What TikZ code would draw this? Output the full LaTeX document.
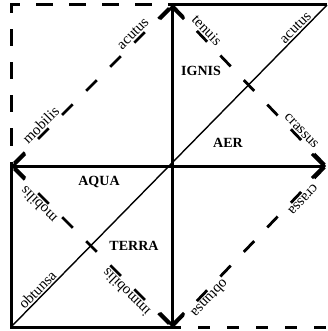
\documentclass[tikz,border=0pt]{standalone}
\usepackage{fontspec}
\setmainfont{Liberation Serif}
\usetikzlibrary{arrows.meta}

\begin{document}
\begin{tikzpicture}[
    x=1pt, y=-1pt,
    edge/.style={line width=3pt},
    edgegap/.style={line width=3pt, dash pattern=on 17pt off 16pt, dash phase=12.5pt},
    lowgap/.style={line width=3pt, dash pattern=on 12pt off 17pt, dash phase=3pt},
    flow/.style={line width=3pt, -{Straight Barb[length=12pt,width=24pt]}},
    crossline/.style={line width=2.8pt, dash pattern=on 15pt off 19pt},
    axis/.style={line width=1.4pt},
    quality/.style={font=\fontsize{15}{17}\selectfont, sloped, above, inner sep=1.5pt},
    element/.style={font=\fontsize{14}{16}\selectfont\bfseries},
]
\useasboundingbox (0,0) rectangle (327,331);

% Corners
\coordinate (tl) at (11,5);
\coordinate (tm) at (172,5);
\coordinate (tr) at (327,5);
\coordinate (lm) at (11,166);
\coordinate (c)  at (172,166);
\coordinate (rm) at (326,166);
\coordinate (bl) at (11,327);
\coordinate (bm) at (172,327);
\coordinate (br) at (327,327);

% Square edges
\draw[edgegap] (tm) -- (tl) -- (lm);
\draw[edge] (tm) -- (tr);
\draw[edge] (lm) -- (bl) -- (bm);
\draw[lowgap] (bm) -- (br);

% Main diagonal
\draw[axis] (bl) -- node[quality, pos=0.10] {obtunsa}
                    node[quality, pos=0.915] {acutus} (tr);

% Quadrant diagonals
\draw[crossline, dash phase=29.7pt] (lm) --
  node[quality, pos=0.22] {mobilis}
  node[quality, pos=0.79] {acutus} (tm);
\draw[crossline, dash phase=32.1pt] (tm) --
  node[quality, pos=0.19] {tenuis}
  node[quality, pos=0.81] {crassus} (rm);
\draw[crossline, dash phase=32.1pt, allow upside down] (rm) --
  node[quality, pos=0.18] {crassa}
  node[quality, pos=0.79] {obtunsa} (bm);
\draw[crossline, dash phase=29.7pt, allow upside down] (bm) --
  node[quality, pos=0.25] {immobilis}
  node[quality, pos=0.795] {mobilis} (lm);

% Arrows out of the centre
\draw[flow] (c) -- (tm);
\draw[flow] (c) -- (lm);
\draw[flow] (c) -- (bm);
\draw[flow] (c) -- (rm);

% Elements
\node[element] (ignis) at (201,71) {IGNIS};
\node[element] (aer) at (228,143) {AER};
\node[element] (aqua) at (99,182) {AQUA};
\node[element] (terra) at (134,246) {TERRA};
\end{tikzpicture}
\end{document}
